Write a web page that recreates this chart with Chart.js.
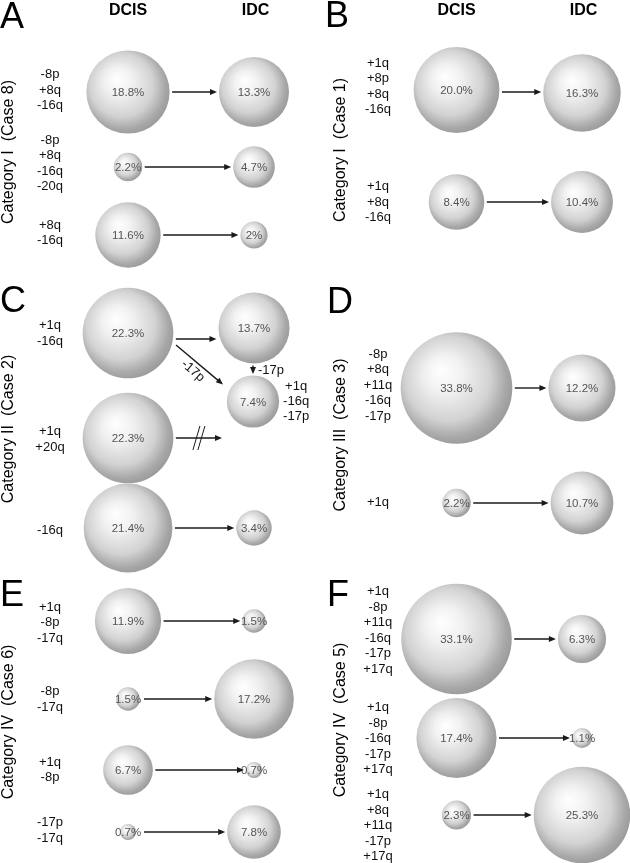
<!DOCTYPE html>
<html>
<head>
<meta charset="utf-8">
<script src="https://cdn.jsdelivr.net/npm/chart.js@4.4.1/dist/chart.umd.min.js"></script>
<style>
  html, body { margin: 0; padding: 0; background: #fff; }
  #wrap { width: 630px; height: 863px; position: relative; }
</style>
</head>
<body>
<div id="wrap"><canvas id="chart"></canvas></div>
<script>
// ---- data ----
const panelLetters = ["A", "B", "C", "D", "E", "F"];
const categoryLabels = [
  "Category I  (Case 8)", "Category I  (Case 1)", "Category II  (Case 2)",
  "Category III  (Case 3)", "Category IV  (Case 6)", "Category IV  (Case 5)"
];
const stageLabels = ["DCIS", "IDC"];

// one entry per clone row (panel index, karyotype, DCIS %, IDC %)
const rowPanel = [0, 0, 0, 1, 1, 2, 2, 2, 3, 3, 4, 4, 4, 4, 5, 5, 5];
const rowKaryotype = [
  ["-8p", "+8q", "-16q"],
  ["-8p", "+8q", "-16q", "-20q"],
  ["+8q", "-16q"],
  ["+1q", "+8p", "+8q", "-16q"],
  ["+1q", "+8q", "-16q"],
  ["+1q", "-16q"],
  ["+1q", "+20q"],
  ["-16q"],
  ["-8p", "+8q", "+11q", "-16q", "-17p"],
  ["+1q"],
  ["+1q", "-8p", "-17q"],
  ["-8p", "-17q"],
  ["+1q", "-8p"],
  ["-17p", "-17q"],
  ["+1q", "-8p", "+11q", "-16q", "-17p", "+17q"],
  ["+1q", "-8p", "-16q", "-17p", "+17q"],
  ["+1q", "+8q", "+11q", "-17p", "+17q"]
];
const dcisPercent = ["18.8", "2.2", "11.6", "20.0", "8.4", "22.3", "22.3", "21.4", "33.8", "2.2",
                     "11.9", "1.5", "6.7", "0.7", "33.1", "17.4", "2.3"];
const idcPercent = ["13.3", "4.7", "2", "16.3", "10.4", "13.7", null, "3.4", "12.2", "10.7",
                    "1.5", "17.2", "0.7", "7.8", "6.3", "1.1", "25.3"];

// panel C: IDC subclone that picked up -17p
const subclonePercent = "7.4";
const subcloneKaryotype = ["+1q", "-16q", "-17p"];
const subcloneChange = "-17p";

// ---- layout (page units) ----
const colX = [[128, 254], [456.5, 582]];
const rowY = [92, 167, 235, 90, 202, 333, 438, 528, 388, 503, 621, 699, 770, 832, 639, 738, 815];
const idcY = rowY.slice(); idcY[3] = 93; idcY[5] = 328;
const arrowY = rowY.slice(); arrowY[3] = 92; arrowY[5] = 339;
const labelY = [90, 163.5, 233, 86.5, 202, 333.5, 439.5, 530, 385, 502, 622.5, 699.5, 770, 830.5, 630.5, 738.5, 825.5];
const labelX = [50, 378];
const subclonePos = [253, 401.5];
const letterPos = [[0, 28], [325, 27], [0, 311.5], [327, 313], [0, 606], [327, 606]];
const categoryPos = [[9, 152], [341, 150], [9, 429], [341, 435], [9, 722], [341, 720]];
const FONT = '"Liberation Sans", Arial, Helvetica, sans-serif';

const radiusOf = p => 9.6 * Math.sqrt(p);
const side = i => rowPanel[i] % 2;

const dcisPoints = dcisPercent.map((p, i) => ({
  x: colX[side(i)][0], y: rowY[i], r: radiusOf(+p), label: p + "%"
}));
const idcPoints = idcPercent.map((p, i) => p === null ? null : ({
  x: colX[side(i)][1], y: idcY[i], r: radiusOf(+p), label: p + "%"
}));
const subclonePoint = { x: subclonePos[0], y: subclonePos[1], r: radiusOf(+subclonePercent), label: subclonePercent + "%" };

function sphereFill(context) {
  const chart = context.chart;
  const d = context.raw;
  if (!d || !chart.scales || !chart.scales.x) return "#cccccc";
  const x = chart.scales.x.getPixelForValue(d.x);
  const y = chart.scales.y.getPixelForValue(d.y);
  const r = d.r;
  // first pass runs before the scales are laid out
  if (![x, y, r].every(Number.isFinite)) return "#cccccc";
  const g = chart.ctx.createRadialGradient(x - r * 0.28, y - r * 0.32, 0, x - r * 0.1, y - r * 0.1, r * 1.12);
  g.addColorStop(0, "#ffffff");
  g.addColorStop(0.3, "#f1f1f1");
  g.addColorStop(0.68, "#d2d2d2");
  g.addColorStop(0.9, "#a8a8a8");
  g.addColorStop(1, "#9c9c9c");
  return g;
}

function arrow(ctx, x1, y1, x2, y2) {
  const a = Math.atan2(y2 - y1, x2 - x1), L = 7, w = 3;
  ctx.beginPath();
  ctx.moveTo(x1, y1);
  ctx.lineTo(x2 - L * 0.7 * Math.cos(a), y2 - L * 0.7 * Math.sin(a));
  ctx.stroke();
  ctx.beginPath();
  ctx.moveTo(x2, y2);
  ctx.lineTo(x2 - L * Math.cos(a) + w * Math.sin(a), y2 - L * Math.sin(a) - w * Math.cos(a));
  ctx.lineTo(x2 - L * Math.cos(a) - w * Math.sin(a), y2 - L * Math.sin(a) + w * Math.cos(a));
  ctx.closePath();
  ctx.fill();
}

const annotate = {
  id: "annotate",
  afterDatasetsDraw(chart) {
    const ctx = chart.ctx;
    const px = v => chart.scales.x.getPixelForValue(v);
    const py = v => chart.scales.y.getPixelForValue(v);
    ctx.save();

    // percentages inside spheres
    ctx.textAlign = "center";
    ctx.textBaseline = "middle";
    ctx.fillStyle = "#555";
    ctx.font = "11.5px " + FONT;
    chart.data.datasets.forEach(ds => ds.data.forEach(d => {
      ctx.fillText(d.label, px(d.x), py(d.y) + 1);
    }));

    // arrows
    ctx.strokeStyle = "#1a1a1a";
    ctx.fillStyle = "#1a1a1a";
    ctx.lineWidth = 1.4;
    dcisPoints.forEach((d, i) => {
      const y = py(arrowY[i]);
      const x1 = px(d.x) + Math.max(d.r + 2.5, 16);
      const t = idcPoints[i];
      if (t) {
        arrow(ctx, x1, y, px(t.x) - t.r - 2, y);
      } else {
        // blocked path
        const x2 = px(subclonePoint.x) - 31;
        arrow(ctx, x1, y, x2, y);
        const mx = (x1 + x2) / 2;
        ctx.lineWidth = 1;
        [-2.5, 2.5].forEach(o => {
          ctx.beginPath();
          ctx.moveTo(mx + o - 3.5, y + 12);
          ctx.lineTo(mx + o + 3.5, y - 12);
          ctx.stroke();
        });
        ctx.lineWidth = 1.4;
      }
    });

    // panel C: branch to subclone
    const src = dcisPoints[5], top = idcPoints[5];
    const sx = px(subclonePoint.x), sy = py(subclonePoint.y), sr = subclonePoint.r;
    arrow(ctx, px(src.x) + 48, py(src.y) + 12, sx - 30, sy - 17);
    arrow(ctx, px(top.x) - 1, py(top.y) + top.r + 2, px(top.x) - 1, sy - sr - 1.5);

    ctx.fillStyle = "#111";
    ctx.font = "13px " + FONT;
    ctx.textAlign = "left";
    ctx.fillText(subcloneChange, px(top.x) + 4, py(top.y) + top.r + 7);
    ctx.save();
    ctx.translate(px(src.x) + 65, py(src.y) + 38);
    ctx.rotate(Math.atan2(40, 47));
    ctx.textAlign = "center";
    ctx.fillText(subcloneChange, 0, 0);
    ctx.restore();

    ctx.textAlign = "center";
    subcloneKaryotype.forEach((k, j) => {
      ctx.fillText(k, sx + sr + 17, sy + (j - 1) * 15);
    });

    // karyotype labels
    rowKaryotype.forEach((lines, i) => {
      const x = labelX[side(i)];
      const n = lines.length;
      lines.forEach((k, j) => {
        ctx.fillText(k, x, labelY[i] + (j - (n - 1) / 2) * 15.5);
      });
    });

    // panel letters
    ctx.textAlign = "left";
    ctx.textBaseline = "alphabetic";
    ctx.fillStyle = "#000";
    ctx.font = "36px " + FONT;
    panelLetters.forEach((l, p) => ctx.fillText(l, letterPos[p][0], letterPos[p][1]));

    // column headers
    ctx.textAlign = "center";
    ctx.font = "bold 16px " + FONT;
    [0, 1].forEach(s => {
      ctx.fillText(stageLabels[0], colX[s][0], 15);
      ctx.fillText(stageLabels[1], colX[s][1] + 1.5, 15);
    });

    // category labels
    ctx.font = "16px " + FONT;
    ctx.textBaseline = "middle";
    categoryLabels.forEach((c, p) => {
      ctx.save();
      ctx.translate(categoryPos[p][0], categoryPos[p][1]);
      ctx.rotate(-Math.PI / 2);
      ctx.fillText(c, 0, 0);
      ctx.restore();
    });

    ctx.restore();
  }
};

new Chart(document.getElementById("chart"), {
  type: "bubble",
  data: {
    datasets: [
      { label: stageLabels[0], data: dcisPoints, backgroundColor: sphereFill, borderWidth: 0, clip: false },
      { label: stageLabels[1], data: idcPoints.filter(d => d).concat([subclonePoint]), backgroundColor: sphereFill, borderWidth: 0, clip: false }
    ]
  },
  options: {
    responsive: true,
    maintainAspectRatio: false,
    animation: false,
    events: [],
    layout: { padding: 0, autoPadding: false },
    scales: {
      x: { type: "linear", min: 0, max: 630, display: false },
      y: { type: "linear", min: 0, max: 863, reverse: true, display: false }
    },
    plugins: { legend: { display: false }, tooltip: { enabled: false } }
  },
  plugins: [annotate]
});
</script>
</body>
</html>
